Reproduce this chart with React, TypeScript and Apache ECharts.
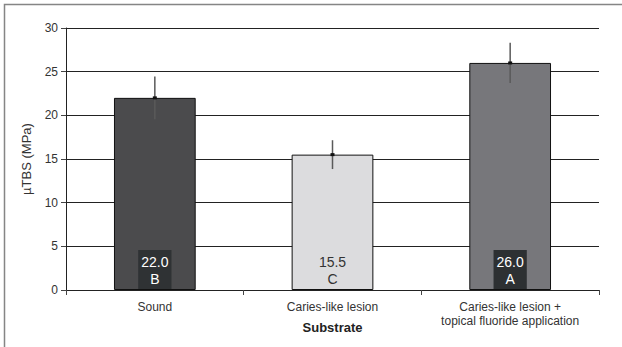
import React, { useEffect, useRef } from "react";
import * as echarts from "echarts";

const categories = ["Sound", "Caries-like lesion", "Caries-like lesion +\ntopical fluoride application"];
const means = [22.0, 15.5, 26.0];
const errors = [2.45, 1.65, 2.3];
const letters = ["B", "C", "A"];
const barColors = ["#4b4b4d", "#dcdcde", "#77777b"];
const labelBgs = ["#2f3234", "transparent", "#2d3032"];
const labelColors = ["#ffffff", "#333333", "#ffffff"];
const yTicks = [0, 5, 10, 15, 20, 25, 30];

const FONT = "Liberation Sans, Arial, sans-serif";

export default function App() {
  const ref = useRef<HTMLDivElement>(null);
  useEffect(() => {
    const chart = echarts.init(ref.current!, null, { renderer: "svg" });
    chart.setOption({
      animation: false,
      textStyle: { fontFamily: FONT },
      graphic: [
        {
          type: "polyline",
          shape: { points: [[4.5, 347], [4.5, 4.5], [622, 4.5]] },
          style: { stroke: "#858585", lineWidth: 1.5, fill: "none" },
          silent: true,
        },
      ],
      grid: { left: 66, right: 23, top: 28, bottom: 57, containLabel: false, outerBoundsMode: "none" },
      xAxis: {
        type: "category",
        data: categories,
        name: "Substrate",
        nameLocation: "middle",
        nameGap: 31,
        nameMoveOverlap: false,
        nameTextStyle: { fontWeight: "bold", fontSize: 13, color: "#222", fontFamily: FONT, verticalAlign: "top" },
        axisLine: { lineStyle: { color: "#222", width: 1 } },
        axisTick: { show: true, length: 5, lineStyle: { color: "#444" } },
        axisLabel: { interval: 0, hideOverlap: false, color: "#333", fontSize: 12, margin: 10, lineHeight: 14, fontFamily: FONT },
      },
      yAxis: {
        type: "value",
        min: 0,
        max: 30,
        interval: 5,
        name: "µTBS (MPa)",
        nameLocation: "middle",
        nameGap: 33,
        nameMoveOverlap: false,
        nameTextStyle: { fontSize: 13, color: "#333", fontFamily: FONT },
        axisLine: { show: true, lineStyle: { color: "#222", width: 1 } },
        axisTick: { show: true, length: 5, lineStyle: { color: "#444" } },
        axisLabel: { color: "#333", fontSize: 12, margin: 8, fontFamily: FONT, formatter: (v: number) => (yTicks.includes(v) ? String(v) : "") },
        splitLine: { show: true, lineStyle: { color: "#222", width: 1 } },
      },
      series: [
        {
          type: "bar",
          barWidth: "46%",
          data: means.map((v, i) => ({
            value: v,
            itemStyle: { color: barColors[i], borderColor: "#111", borderWidth: 1 },
            label: {
              show: true,
              position: "insideBottom",
              distance: 1,
              formatter: () => v.toFixed(1) + "\n" + letters[i],
              color: labelColors[i],
              backgroundColor: labelBgs[i],
              padding: [3, 3, 2, 3],
              fontSize: 14,
              lineHeight: 17,
              fontFamily: FONT,
            },
          })),
          z: 2,
        },
        {
          type: "custom",
          z: 5,
          data: means.map((v, i) => [i, v, errors[i]]),
          renderItem: (params: any, api: any) => {
            const x = api.value(0);
            const m = api.value(1);
            const e = api.value(2);
            const top = api.coord([x, m + e]);
            const bot = api.coord([x, m - e]);
            const mid = api.coord([x, m]);
            return {
              type: "group",
              children: [
                {
                  type: "line",
                  shape: { x1: top[0], y1: top[1], x2: bot[0], y2: bot[1] },
                  style: { stroke: "#5a5a5a", lineWidth: 1.5 },
                },
                {
                  type: "rect",
                  shape: { x: mid[0] - 2, y: mid[1] - 1.5, width: 4, height: 3 },
                  style: { fill: "#111" },
                },
              ],
            };
          },
        },
      ],
    });
    return () => chart.dispose();
  }, []);
  return <div ref={ref} style={{ width: 622, height: 347, position: "absolute", left: 0, top: 0 }} />;
}
